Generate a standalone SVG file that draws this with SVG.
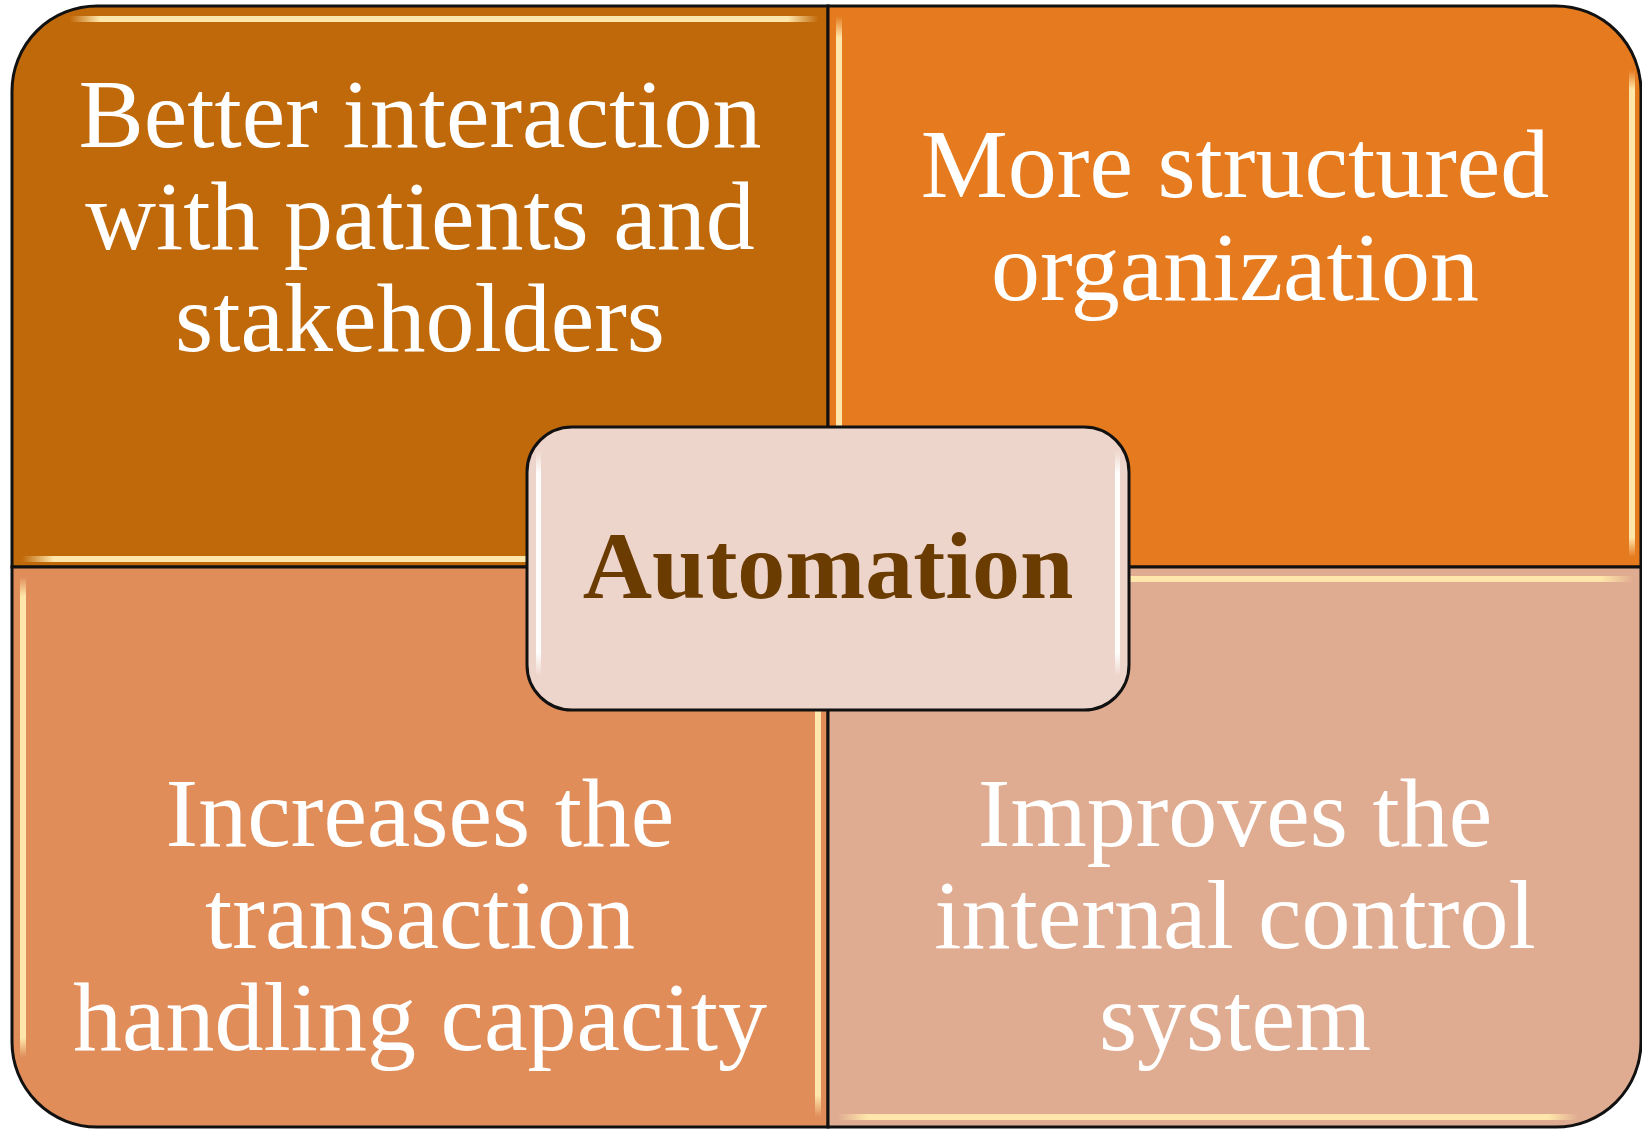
<svg xmlns="http://www.w3.org/2000/svg" width="1642" height="1129" viewBox="0 0 1642 1129">
<style>
.q{stroke:#111;stroke-width:3}
.t{font-family:"Liberation Serif","Times New Roman",serif;font-size:98px;fill:#fff;text-anchor:middle}
.c{font-family:"Liberation Serif","Times New Roman",serif;font-size:96px;font-weight:bold;fill:#6B3C02;text-anchor:middle}
</style>
<defs>
<linearGradient id="gh" x1="0" y1="0" x2="1" y2="0">
<stop offset="0" stop-color="#FFE6AA" stop-opacity="0"/>
<stop offset="0.04" stop-color="#FFE6AA" stop-opacity="1"/>
<stop offset="0.96" stop-color="#FFE6AA" stop-opacity="1"/>
<stop offset="1" stop-color="#FFE6AA" stop-opacity="0"/>
</linearGradient>
<linearGradient id="gv" x1="0" y1="0" x2="0" y2="1">
<stop offset="0" stop-color="#FFE6AA" stop-opacity="0"/>
<stop offset="0.04" stop-color="#FFE6AA" stop-opacity="1"/>
<stop offset="0.96" stop-color="#FFE6AA" stop-opacity="1"/>
<stop offset="1" stop-color="#FFE6AA" stop-opacity="0"/>
</linearGradient>
<linearGradient id="gw" x1="0" y1="0" x2="0" y2="1">
<stop offset="0" stop-color="#FFFFFF" stop-opacity="0"/>
<stop offset="0.1" stop-color="#FFFFFF" stop-opacity="0.95"/>
<stop offset="0.9" stop-color="#FFFFFF" stop-opacity="0.95"/>
<stop offset="1" stop-color="#FFFFFF" stop-opacity="0"/>
</linearGradient>
</defs>
<rect width="1642" height="1129" fill="#fff"/>

<g id="node-top-left">
<path class="q" fill="#C0690A" d="M12,567 V91 A85,85 0 0 1 97,6 H828 V567 Z"/>
<rect x="70" y="16" width="748" height="6" fill="url(#gh)"/>
<rect x="22" y="556" width="796" height="6" fill="url(#gh)"/>
<text class="t" x="420" y="147">Better interaction</text>
<text class="t" x="420" y="249">with patients and</text>
<text class="t" x="420" y="351">stakeholders</text>
</g>

<g id="node-top-right">
<path class="q" fill="#E57A1E" d="M828,6 H1556 A85,85 0 0 1 1641,91 V567 H828 Z"/>
<rect x="836" y="16" width="6" height="541" fill="url(#gv)"/>
<rect x="1629" y="70" width="6" height="487" fill="url(#gv)"/>
<text class="t" x="1235" y="197">More structured</text>
<text class="t" x="1235" y="300">organization</text>
</g>

<g id="node-bottom-left">
<path class="q" fill="#E08D5A" d="M12,567 H828 V1127 H97 A85,85 0 0 1 12,1042 Z"/>
<rect x="20" y="577" width="6" height="480" fill="url(#gv)"/>
<rect x="815" y="577" width="6" height="540" fill="url(#gv)"/>
<text class="t" x="420" y="846">Increases the</text>
<text class="t" x="420" y="948">transaction</text>
<text class="t" x="420" y="1050">handling capacity</text>
</g>

<g id="node-bottom-right">
<path class="q" fill="#E0AC91" d="M828,567 H1641 V1042 A85,85 0 0 1 1556,1127 H828 Z"/>
<rect x="838" y="576" width="795" height="6" fill="url(#gh)"/>
<rect x="838" y="1114" width="740" height="6" fill="url(#gh)"/>
<text class="t" x="1235" y="846">Improves the</text>
<text class="t" x="1235" y="948">internal control</text>
<text class="t" x="1235" y="1050">system</text>
</g>

<g id="connectors"></g>

<g id="node-center">
<rect class="q" x="527" y="427" width="602" height="283" rx="45" ry="45" fill="#EED5CB"/>
<rect x="536" y="450" width="5" height="226" fill="url(#gw)"/>
<rect x="1115" y="450" width="5" height="226" fill="url(#gw)"/>
<text class="c" x="828" y="598">Automation</text>
</g>
</svg>
